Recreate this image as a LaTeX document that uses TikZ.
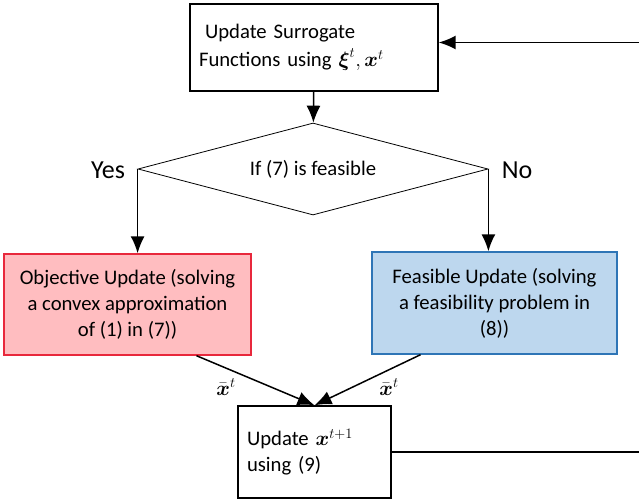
\documentclass[tikz,border=0pt]{standalone}
\usepackage{amsmath}
\usepackage{fontspec}
\setmainfont{Carlito}
\usetikzlibrary{shapes,arrows.meta,positioning,calc}
\definecolor{obj-fill}{RGB}{255, 189, 192}
\definecolor{obj-line}{RGB}{232, 40, 60}
\definecolor{feas-fill}{RGB}{189, 215, 238}
\definecolor{feas-line}{RGB}{46, 117, 182}
\tikzstyle{box}=[draw,rectangle,line width=1.4pt,inner sep=0pt]
\tikzstyle{txt}=[font=\fontsize{20.7}{26}\selectfont]
\tikzstyle{arrow}=[draw,line width=1.5pt,-{Latex[length=17pt,width=14pt]}]
\tikzstyle{plain}=[draw,line width=1.5pt]
\tikzstyle{obj}=[box,txt,draw=obj-line,fill=obj-fill,align=center]
\tikzstyle{feas}=[box,txt,draw=feas-line,fill=feas-fill,align=center]
\tikzstyle{test}=[draw,diamond,line width=0.8pt,aspect=3.8,inner sep=0pt,txt]

\begin{document}
\begin{tikzpicture}[x=1pt,y=-1pt]
  \useasboundingbox (0,0) rectangle (639,503);

  % Surrogate step
  \node [box,font=\fontsize{20.7}{28}\selectfont,align=left,inner xsep=9pt,text width=230pt,minimum height=87pt] (upd) at (314,47.5)
    {\hspace{6pt}Update Surrogate\\Functions using $\boldsymbol{\xi}^t,\boldsymbol{x}^t$};

  % Feasibility test
  \node [test,minimum width=350pt,minimum height=92pt] (dec) at (313,169) {If (7) is feasible};
  \node [font=\fontsize{26}{30}\selectfont] (yes) at (108,170) {Yes};
  \node [font=\fontsize{26}{30}\selectfont] (no) at (517,170) {No};

  % Two updates
  \node [obj,minimum width=247pt,minimum height=101pt] (ou) at (127.5,304.5)
    {Objective Update (solving\\a convex approximation\\of (1) in (7))};
  \node [feas,minimum width=245pt,minimum height=102pt] (fu) at (494.5,303)
    {Feasible Update (solving\\a feasibility problem in\\(8))};

  % Iterate step
  \node [box,txt,align=left,inner xsep=9pt,text width=135pt,minimum height=92pt] (upx) at (314.5,452)
    {Update $\boldsymbol{x}^{t+1}$\\using (9)};

  \node [txt] (xl) at (226,387) {$\bar{\boldsymbol{x}}^t$};
  \node [txt] (xr) at (389,387) {$\bar{\boldsymbol{x}}^t$};

  \coordinate (rt) at (660,0);

  \draw[arrow] (upd) -- (dec);
  \draw[arrow] (dec.west) -- (dec.west|-ou.north);
  \draw[arrow] (dec.east) -- (dec.east|-fu.north);
  \draw[arrow] ([xshift=69pt]ou.south) -- (upx.north);
  \draw[arrow] ([xshift=-74pt]fu.south) -- (upx.north);
  \draw[plain] (upx.east) -- (upx.east-|rt) -- ([yshift=5pt]upd.east-|rt);
  \draw[arrow] ([yshift=5pt]upd.east-|rt) -- ([yshift=5pt]upd.east);
\end{tikzpicture}
\end{document}
